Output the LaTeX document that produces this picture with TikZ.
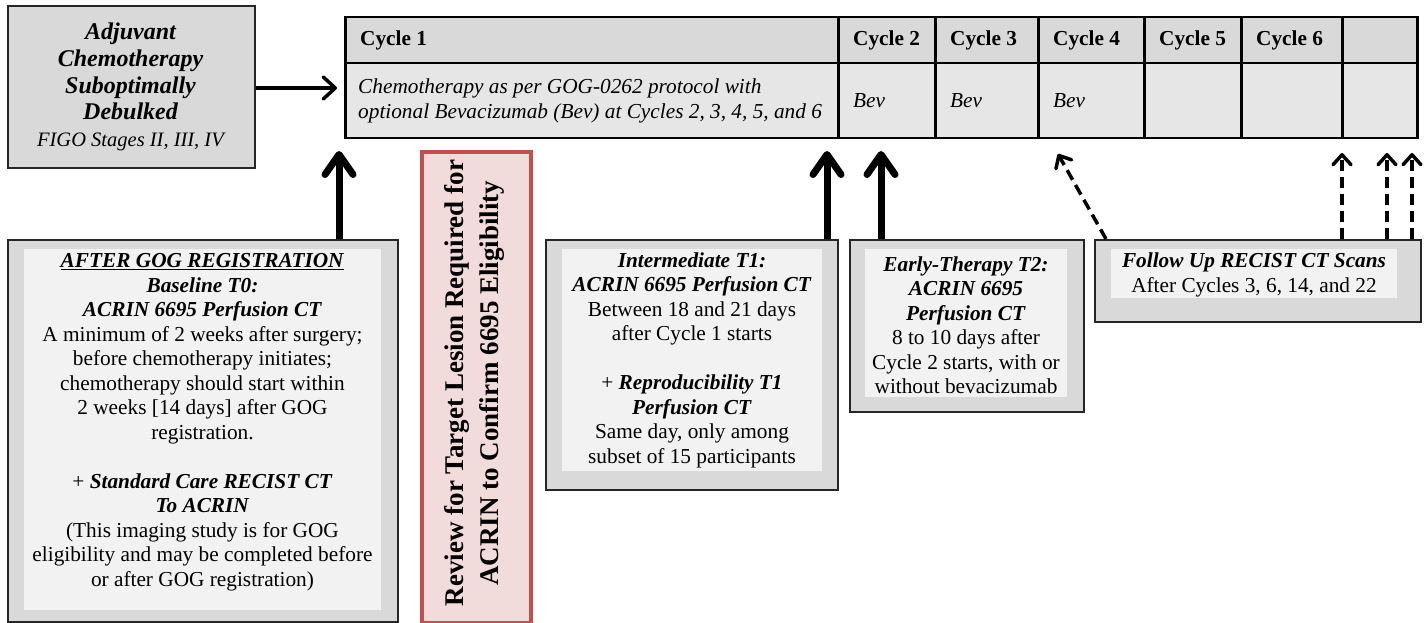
\documentclass[tikz,border=0pt]{standalone}
\usepackage{fontspec}
\setmainfont{Liberation Serif}
\usetikzlibrary{arrows.meta}
\definecolor{gA}{HTML}{D9D9D9}
\definecolor{gB}{HTML}{F2F2F2}
\definecolor{gC}{HTML}{E6E6E6}
\definecolor{rB}{HTML}{C0504D}
\definecolor{rF}{HTML}{F2DCDB}
\newcommand\bodyfs{\fontsize{21.3}{24.5}\selectfont}
\newcommand\bfit[1]{\textbf{\textit{#1}}}
\begin{document}
\begin{tikzpicture}[x=1pt,y=-1pt,
  obox/.style={draw=black!85, line width=2pt, fill=gA, anchor=north west, inner sep=0pt},
  ibox/.style={fill=gB, anchor=north west, inner sep=0pt},
  txt/.style={align=center, inner sep=0pt, font=\bodyfs},
  hcell/.style={draw, line width=2.5pt, fill=gA, anchor=north west, inner sep=0pt, minimum height=46pt},
  bcell/.style={draw, line width=2.5pt, fill=gC, anchor=north west, inner sep=0pt, minimum height=75pt},
  htxt/.style={anchor=west, inner sep=0pt, align=left, font=\bodyfs\bfseries},
  btxt/.style={anchor=west, inner sep=0pt, align=left, font=\bodyfs\itshape},
  bigarrow/.style={line width=7pt, -{Straight Barb[length=20pt,width=28pt,round]}},
  midarrow/.style={line width=3.5pt, -{Straight Barb[length=12pt,width=22pt,round]}},
  dasharrow/.style={line width=3.5pt, dash pattern=on 11pt off 6pt, -{Straight Barb[length=10pt,width=18pt,round]}}
]
\useasboundingbox (0,0) rectangle (1424,623);

% top-left box
\node[obox, minimum width=247pt, minimum height=162pt] (left) at (7,5) {};
\node[txt, font=\fontsize{24}{26.8}\selectfont\bfseries\itshape] (lefttxt) at (130.5,87)
  {Adjuvant\\Chemotherapy\\Suboptimally\\Debulked\\{\fontsize{20.5}{26.8}\selectfont\mdseries FIGO Stages II, III, IV}};

% table cells
\node[hcell, minimum width=493pt] (h1) at (344,16) {};
\node[hcell, minimum width=97pt] (h2) at (837,16) {};
\node[hcell, minimum width=103pt] (h3) at (934,16) {};
\node[hcell, minimum width=106pt] (h4) at (1037,16) {};
\node[hcell, minimum width=97pt] (h5) at (1143,16) {};
\node[hcell, minimum width=101pt] (h6) at (1240,16) {};
\node[hcell, minimum width=75pt] (h7) at (1341,16) {};
\node[bcell, minimum width=493pt] (b1) at (344,62) {};
\node[bcell, minimum width=97pt] (b2) at (837,62) {};
\node[bcell, minimum width=103pt] (b3) at (934,62) {};
\node[bcell, minimum width=106pt] (b4) at (1037,62) {};
\node[bcell, minimum width=97pt] (b5) at (1143,62) {};
\node[bcell, minimum width=101pt] (b6) at (1240,62) {};
\node[bcell, minimum width=75pt] (b7) at (1341,62) {};
% table texts
\node[htxt] (h1t) at ([xshift=16pt]h1.west) {Cycle 1};
\node[htxt] (h2t) at ([xshift=16pt]h2.west) {Cycle 2};
\node[htxt] (h3t) at ([xshift=16pt]h3.west) {Cycle 3};
\node[htxt] (h4t) at ([xshift=16pt]h4.west) {Cycle 4};
\node[htxt] (h5t) at ([xshift=16pt]h5.west) {Cycle 5};
\node[htxt] (h6t) at ([xshift=16pt]h6.west) {Cycle 6};
\node[btxt] (b1t) at ([xshift=14pt]b1.west) {Chemotherapy as per GOG-0262 protocol with\\optional Bevacizumab (Bev) at Cycles 2, 3, 4, 5, and 6};
\node[btxt] (b2t) at ([xshift=16pt]b2.west) {Bev};
\node[btxt] (b3t) at ([xshift=16pt]b3.west) {Bev};
\node[btxt] (b4t) at ([xshift=16pt]b4.west) {Bev};

% red review box
\node[draw=rB, line width=4pt, fill=rF, anchor=north west, minimum width=109pt, minimum height=471pt, inner sep=0pt] (review) at (420,150) {};
\node[txt, rotate=90, font=\fontsize{27}{35}\selectfont\bfseries] (reviewtxt) at (474,383)
  {Review for Target Lesion Required for\\ACRIN to Confirm 6695 Eligibility};

% baseline box
\node[obox, minimum width=390pt, minimum height=382pt] (base) at (7,239) {};
\node[ibox, minimum width=357pt, minimum height=361pt] (basein) at (24,249) {};
\node[txt] (basetxt) at (202.5,422) {%
  \underline{\bfit{AFTER GOG REGISTRATION}}\\
  \bfit{Baseline T0:}\\
  \bfit{ACRIN 6695 Perfusion CT}\\
  A minimum of 2 weeks after surgery;\\
  before chemotherapy initiates;\\
  chemotherapy should start within\\
  2 weeks [14 days] after GOG\\
  registration.\\[24.5pt]
  + \bfit{Standard Care RECIST CT}\\
  \bfit{To ACRIN}\\
  (This imaging study is for GOG\\
  eligibility and may be completed before\\
  or after GOG registration)};

% intermediate box
\node[obox, minimum width=292pt, minimum height=250pt] (inter) at (545,239) {};
\node[ibox, minimum width=260pt, minimum height=222pt] (interin) at (562,249) {};
\node[txt] (intertxt) at (692,360) {%
  \bfit{Intermediate T1:}\\
  \bfit{ACRIN 6695 Perfusion CT}\\
  Between 18 and 21 days\\
  after Cycle 1 starts\\[24.5pt]
  + \bfit{Reproducibility T1}\\
  \bfit{Perfusion CT}\\
  Same day, only among\\
  subset of 15 participants};

% early therapy box
\node[obox, minimum width=234pt, minimum height=172pt] (early) at (849,239) {};
\node[ibox, minimum width=202pt, minimum height=148pt] (earlyin) at (865,249) {};
\node[txt] (earlytxt) at (966,325) {%
  \bfit{Early-Therapy T2:}\\
  \bfit{ACRIN 6695}\\
  \bfit{Perfusion CT}\\
  8 to 10 days after\\
  Cycle 2 starts, with or\\
  without bevacizumab};

% follow-up box
\node[obox, minimum width=326pt, minimum height=82pt] (follow) at (1094,239) {};
\node[ibox, minimum width=286pt, minimum height=49pt] (followin) at (1111,249) {};
\node[txt] (followtxt) at (1254,275) {%
  \bfit{Follow Up RECIST CT Scans}\\
  After Cycles 3, 6, 14, and 22};

% arrow tips
\coordinate (la) at (337,88);
\coordinate (t0) at (339,151);
\coordinate (t1) at (827,151);
\coordinate (t2) at (881,151);
\coordinate (f0) at (1058,154);
\coordinate (f1) at (1342,153);
\coordinate (f2) at (1387,153);
\coordinate (f3) at (1412,153);

\draw[midarrow] (left.east |- la) -- (la);
\draw[bigarrow] (base.north -| t0) -- (t0);
\draw[bigarrow] (inter.north -| t1) -- (t1);
\draw[bigarrow] (early.north -| t2) -- (t2);
\draw[dasharrow] ([xshift=12pt]follow.north west) -- (f0);
\draw[dasharrow] (follow.north -| f1) -- (f1);
\draw[dasharrow] (follow.north -| f2) -- (f2);
\draw[dasharrow] (follow.north -| f3) -- (f3);
\end{tikzpicture}
\end{document}
